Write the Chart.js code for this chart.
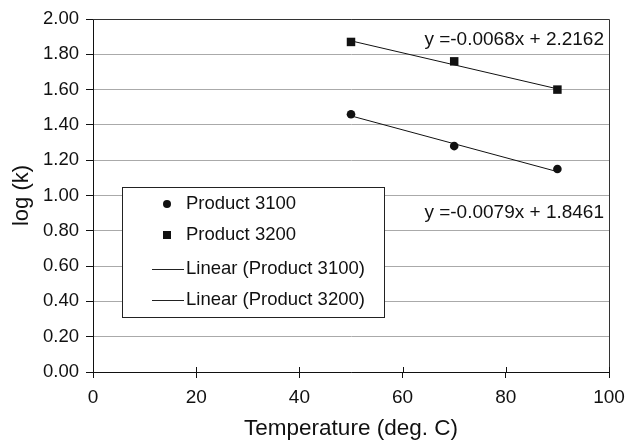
<!DOCTYPE html>
<html>
<head>
<meta charset="utf-8">
<script src="https://cdn.jsdelivr.net/npm/chart.js@4/dist/chart.umd.min.js"></script>
<style>
  html, body { margin: 0; padding: 0; background: #fff; }
  #wrap { width: 628px; height: 442px; }
</style>
</head>
<body>
<div id="wrap"><canvas id="c" width="628" height="442"></canvas></div>
<script>
// Temperature (deg. C) vs log(k), two products with linear trend lines
const temps = [50, 70, 90];
const p3100 = [1.46, 1.28, 1.15];
const p3200 = [1.87, 1.76, 1.60];

// trend line coefficients as printed on the chart
const fit3100 = { slope: -0.0079, icpt: 1.8461, label: "y =-0.0079x + 1.8461" };
const fit3200 = { slope: -0.0068, icpt: 2.2162, label: "y =-0.0068x + 2.2162" };
const fitRange = [50, 90];

const legendLabels = ["Product 3100", "Product 3200", "Linear (Product 3100)", "Linear (Product 3200)"];

const FONT = "'Liberation Sans', Arial, sans-serif";

function pts(xs, ys) { return xs.map((x, i) => ({ x: x, y: ys[i] })); }
function fitLine(f) { return fitRange.map(x => ({ x: x, y: f.icpt + f.slope * x })); }

// frame, crossing x ticks, legend box and equation labels
const extras = {
  id: "extras",
  afterDatasetsDraw(chart) {
    const ctx = chart.ctx, a = chart.chartArea;
    const xs = chart.scales.x;
    ctx.save();
    // top and right border of plot area
    ctx.strokeStyle = "#333";
    ctx.lineWidth = 1;
    ctx.beginPath();
    ctx.moveTo(a.left, a.top + 0.5);
    ctx.lineTo(a.right + 0.5, a.top + 0.5);
    ctx.lineTo(a.right + 0.5, a.bottom);
    ctx.stroke();
    // x ticks poke up into the plot too
    ctx.strokeStyle = "#111";
    for (let v = 20; v <= 100; v += 20) {
      const px = Math.round(xs.getPixelForValue(v)) + 0.5;
      ctx.beginPath();
      ctx.moveTo(px, a.bottom - 5);
      ctx.lineTo(px, a.bottom);
      ctx.stroke();
    }

    // equation labels
    ctx.fillStyle = "#111";
    ctx.font = "19px " + FONT;
    ctx.textAlign = "right";
    ctx.textBaseline = "middle";
    ctx.fillText(fit3200.label, 604, 40);
    ctx.fillText(fit3100.label, 604, 213);

    // legend box
    const bx = 122.5, by = 187.5, bw = 262, bh = 130;
    ctx.fillStyle = "#fff";
    ctx.fillRect(bx, by, bw, bh);
    ctx.strokeStyle = "#222";
    ctx.strokeRect(bx, by, bw, bh);
    const rows = [204, 235, 269, 300];
    ctx.font = "18.5px " + FONT;
    ctx.textAlign = "left";
    ctx.fillStyle = "#111";
    legendLabels.forEach((t, i) => {
      const y = rows[i];
      if (i === 0) {
        ctx.beginPath();
        ctx.arc(167, y, 4, 0, Math.PI * 2);
        ctx.fill();
      } else if (i === 1) {
        ctx.fillRect(163, y - 4, 8, 8);
      } else {
        ctx.beginPath();
        ctx.moveTo(152, y + 0.5);
        ctx.lineTo(184, y + 0.5);
        ctx.stroke();
      }
      ctx.fillText(t, 186, y);
    });
    ctx.restore();
  }
};

new Chart(document.getElementById("c"), {
  type: "scatter",
  data: {
    datasets: [
      { label: "Linear (Product 3100)", type: "line", data: fitLine(fit3100), borderColor: "#111", borderWidth: 1, pointRadius: 0, fill: false },
      { label: "Linear (Product 3200)", type: "line", data: fitLine(fit3200), borderColor: "#111", borderWidth: 1, pointRadius: 0, fill: false },
      { label: "Product 3100", data: pts(temps, p3100), pointStyle: "circle", pointRadius: 4.3, backgroundColor: "#111", borderColor: "#111", borderWidth: 0 },
      { label: "Product 3200", data: pts(temps, p3200), pointStyle: "rect", pointRadius: 6, backgroundColor: "#111", borderColor: "#111", borderWidth: 0 }
    ]
  },
  options: {
    responsive: false,
    animation: false,
    layout: { padding: { left: 0, top: 19, right: 19, bottom: 0 } },
    plugins: { legend: { display: false }, tooltip: { enabled: false } },
    scales: {
      x: {
        type: "linear", min: 0, max: 100,
        afterFit(s) { s.height = 70; s.paddingLeft = 0; s.paddingRight = 0; },
        ticks: { stepSize: 20, color: "#111", font: { family: FONT, size: 19 }, padding: 8 },
        grid: { drawOnChartArea: false, drawTicks: true, tickLength: 6, color: "#111" },
        border: { color: "#111", width: 1 },
        title: { display: true, text: "Temperature (deg. C)", color: "#111", font: { family: FONT, size: 22.5 }, padding: { top: 0, bottom: 0 } }
      },
      y: {
        min: 0, max: 2,
        afterFit(s) { s.width = 93; },
        ticks: { stepSize: 0.2, color: "#111", font: { family: FONT, size: 18.5 }, padding: 7,
                 callback: v => v.toFixed(2) },
        grid: { color: "#aaa", tickColor: "#111", tickLength: 7, lineWidth: 1 },
        border: { color: "#111", width: 1 },
        title: { display: true, text: "log (k)", color: "#111", font: { family: FONT, size: 22 }, padding: { top: 9, bottom: 0 } }
      }
    }
  },
  plugins: [extras]
});
</script>
</body>
</html>
